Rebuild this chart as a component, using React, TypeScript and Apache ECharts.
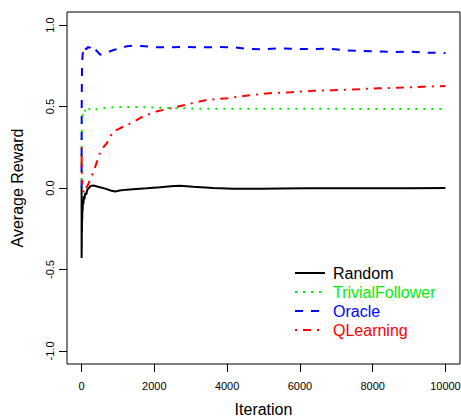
import React, { useEffect, useRef } from "react";
import * as echarts from "echarts";

const xTicks = [0, 2000, 4000, 6000, 8000, 10000];
const yTicks = [-1, -0.5, 0, 0.5, 1];

const randomIter = [1, 2, 3, 5, 7, 10, 14, 18, 24, 30, 40, 50, 65, 80, 100, 130, 160, 200, 250, 330, 450, 650, 800, 925, 1050, 1240, 1500, 1790, 2160, 2450, 2700, 3070, 3620, 4170, 4900, 5500, 6200, 7000, 8000, 9000, 10000];
const randomVals = [0.0, -0.43, -0.3, -0.38, -0.2, -0.28, -0.15, -0.2, -0.1, -0.14, -0.07, -0.1, -0.05, -0.07, -0.03, -0.04, -0.01, 0.0, 0.012, 0.015, 0.008, -0.004, -0.015, -0.022, -0.015, -0.01, -0.006, -0.002, 0.004, 0.01, 0.014, 0.008, 0.0, -0.004, -0.004, -0.003, -0.002, -0.002, -0.001, -0.001, 0.0];

const trivialIter = [1, 3, 6, 10, 15, 25, 40, 60, 90, 130, 170, 240, 350, 500, 750, 1000, 1400, 2000, 2500, 3150, 4000, 5000, 6000, 7000, 8000, 9000, 10000];
const trivialVals = [0.0, 0.25, 0.33, 0.4, 0.42, 0.44, 0.46, 0.45, 0.47, 0.49, 0.5, 0.476, 0.482, 0.487, 0.493, 0.497, 0.497, 0.494, 0.49, 0.487, 0.487, 0.487, 0.487, 0.486, 0.485, 0.485, 0.484];

const oracleIter = [1, 2, 4, 7, 12, 20, 30, 45, 60, 80, 100, 130, 170, 220, 300, 380, 510, 600, 740, 900, 1060, 1250, 1400, 1730, 2090, 2500, 2915, 3310, 3740, 4170, 4580, 5020, 5460, 5890, 6340, 6800, 7240, 7670, 8120, 8580, 9040, 9480, 10000];
const oracleVals = [0.0, 0.3, 0.5, 0.62, 0.72, 0.78, 0.82, 0.84, 0.85, 0.84, 0.86, 0.85, 0.865, 0.86, 0.876, 0.85, 0.818, 0.825, 0.835, 0.848, 0.858, 0.87, 0.873, 0.87, 0.863, 0.864, 0.865, 0.863, 0.865, 0.864, 0.853, 0.851, 0.857, 0.853, 0.853, 0.855, 0.845, 0.841, 0.839, 0.835, 0.837, 0.83, 0.829];

const qIter = [1, 2, 3, 5, 8, 12, 18, 25, 35, 50, 70, 90, 120, 170, 250, 330, 420, 510, 600, 695, 800, 877, 1000, 1150, 1316, 1500, 1680, 2050, 2460, 2960, 3460, 4010, 4560, 5150, 5750, 6340, 6940, 7580, 8170, 8810, 9400, 10000];
const qVals = [0.25, 0.12, 0.18, 0.1, 0.08, 0.04, 0.05, 0.01, 0.0, -0.02, -0.03, -0.02, 0.0, 0.016, 0.06, 0.1, 0.16, 0.22, 0.25, 0.275, 0.32, 0.347, 0.36, 0.377, 0.394, 0.415, 0.438, 0.469, 0.49, 0.516, 0.541, 0.551, 0.567, 0.582, 0.588, 0.596, 0.6, 0.606, 0.612, 0.616, 0.622, 0.626];

const seriesNames = ["Random", "TrivialFollower", "Oracle", "QLearning"];
const seriesColors = ["#000000", "#00ee00", "#0000ff", "#ff0000"];

const FONT = "'Liberation Sans', Arial, Helvetica, sans-serif";

function pairs(xs: number[], ys: number[]) {
  return xs.map((x, i) => [x, ys[i]]);
}

export default function App() {
  const ref = useRef<HTMLDivElement>(null);
  useEffect(() => {
    if (!ref.current) return;
    const chart = echarts.init(ref.current, null, { renderer: "svg" });
    const dashes: any[] = ["solid", [2, 6], [8, 8], [2, 6, 8, 6]];
    const datas = [
      pairs(randomIter, randomVals),
      pairs(trivialIter, trivialVals),
      pairs(oracleIter, oracleVals),
      pairs(qIter, qVals),
    ];
    chart.setOption({
      animation: false,
      backgroundColor: "#ffffff",
      textStyle: { fontFamily: FONT },
      grid: {
        left: 67,
        top: 12,
        right: 1,
        bottom: 52,
        containLabel: false,
        outerBoundsMode: "none",
        show: true,
        borderColor: "#000",
        borderWidth: 1,
        backgroundColor: "transparent",
      },
      legend: {
        orient: "vertical",
        left: 289,
        top: 260,
        itemWidth: 30,
        itemHeight: 10,
        itemGap: 3,
        itemStyle: { opacity: 0 },
        textStyle: { fontSize: 16, lineHeight: 16, fontFamily: FONT, padding: [0, 0, 0, 3] },
        data: seriesNames.map((n, i) => ({ name: n, textStyle: { color: seriesColors[i] } })),
      },
      xAxis: {
        type: "value",
        position: "bottom",
        min: -400,
        max: 10400,
        name: "Iteration",
        nameLocation: "middle",
        nameGap: 37,
        nameTextStyle: { fontSize: 16, color: "#000", fontFamily: FONT },
        axisLine: { show: false, onZero: false },
        splitLine: { show: false },
        axisTick: { show: true, inside: false, length: 8, lineStyle: { color: "#000" }, customValues: xTicks },
        axisLabel: {
          customValues: xTicks,
          margin: 16,
          fontSize: 11,
          color: "#000",
          fontFamily: FONT,
          formatter: (v: number) => String(v),
        },
      },
      yAxis: {
        type: "value",
        position: "left",
        min: -1.08,
        max: 1.08,
        name: "Average Reward",
        nameLocation: "middle",
        nameGap: 42,
        nameRotate: 90,
        nameTextStyle: { fontSize: 16, color: "#000", fontFamily: FONT },
        axisLine: { show: false, onZero: false },
        splitLine: { show: false },
        axisTick: { show: true, inside: false, length: 8, lineStyle: { color: "#000" }, customValues: yTicks },
        axisLabel: {
          customValues: yTicks,
          rotate: 90,
          margin: 12,
          fontSize: 11,
          color: "#000",
          fontFamily: FONT,
          formatter: (v: number) => v.toFixed(1),
        },
      },
      series: seriesNames.map((n, i) => ({
        name: n,
        type: "line",
        data: datas[i],
        symbol: "none",
        showSymbol: false,
        color: seriesColors[i],
        lineStyle: { color: seriesColors[i], width: 2, type: dashes[i], cap: "butt" },
      })),
    });
    return () => chart.dispose();
  }, []);
  return (
    <div
      ref={ref}
      style={{ position: "absolute", left: 0, top: 0, width: 461, height: 416 }}
    />
  );
}
